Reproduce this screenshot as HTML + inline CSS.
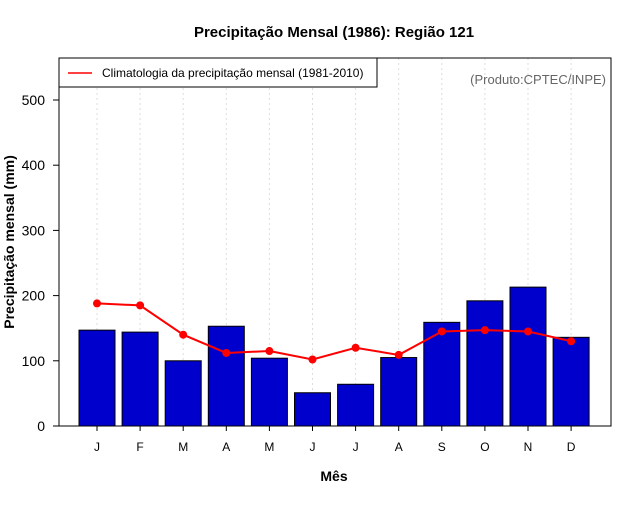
<!DOCTYPE html>
<html><head><meta charset="utf-8"><style>
body{margin:0;background:#fff}
svg text{font-family:"Liberation Sans",sans-serif}
</style></head><body>
<svg id="c" width="640" height="500">
<text x="334" y="37" text-anchor="middle" font-size="15" font-weight="bold">Precipitação Mensal (1986): Região 121</text>
<g id="grid"></g>
<g id="bars"></g>
<g id="line"></g>
<rect x="59" y="58" width="552" height="368" fill="none" stroke="#000"/>
<g id="axes"></g>
<text x="334" y="481" text-anchor="middle" font-size="14" font-weight="bold">Mês</text>
<text transform="translate(14,242) rotate(-90)" text-anchor="middle" font-size="14" font-weight="bold">Precipitação mensal (mm)</text>
<g>
<rect x="59" y="58" width="318" height="29" fill="#fff" stroke="#000"/>
<line x1="68" y1="73" x2="92" y2="73" stroke="#f00" stroke-width="1.5"/>
<text x="102" y="77" font-size="12">Climatologia da precipitação mensal (1981-2010)</text>
</g>
<text x="606" y="84" text-anchor="end" font-size="13" fill="#666">(Produto:CPTEC/INPE)</text>
</svg>
<script>
const months=["J","F","M","A","M","J","J","A","S","O","N","D"];
const precip=[147,144,100,153,104,51,64,105,159,192,213,136];
const clim=[188,185,140,112,115,102,120,109,145,147,145,130];
const yTicks=[0,100,200,300,400,500];
const ns="http://www.w3.org/2000/svg";
const x0=97,dx=43.1,bw=36;
const xs=i=>x0+i*dx;
const ys=v=>426-v*0.652;
function mk(t,a,p){const e=document.createElementNS(ns,t);for(const k in a)e.setAttribute(k,a[k]);document.getElementById(p).appendChild(e);return e;}
months.forEach((m,i)=>{
 const g=mk("line",{x1:xs(i),x2:xs(i),y1:58,y2:426,stroke:"#ddd","stroke-dasharray":"2,3"},"grid");
 
 
 const b=mk("rect",{x:xs(i)-bw/2,y:ys(precip[i]),width:bw,height:ys(0)-ys(precip[i]),fill:"#0000cd",stroke:"#000"},"bars");
 
 
 const t=mk("line",{x1:xs(i),x2:xs(i),y1:426,y2:431,stroke:"#000"},"axes");
 const l=mk("text",{x:xs(i),y:451,"text-anchor":"middle","font-size":12},"axes");l.textContent=m;
 
 
});
const pl=mk("polyline",{points:clim.map((v,i)=>xs(i)+","+ys(v)).join(" "),fill:"none",stroke:"#f00","stroke-width":2},"line");


clim.forEach((v,i)=>{const c=mk("circle",{cx:xs(i),cy:ys(v),r:4,fill:"#f00"},"line");
 
 });
yTicks.forEach(v=>{
 mk("line",{x1:53,x2:59,y1:ys(v),y2:ys(v),stroke:"#000"},"axes");
 const t=mk("text",{x:45,y:ys(v)+5,"text-anchor":"end","font-size":14},"axes");t.textContent=v;
 
 
});
</script>
</body></html>
